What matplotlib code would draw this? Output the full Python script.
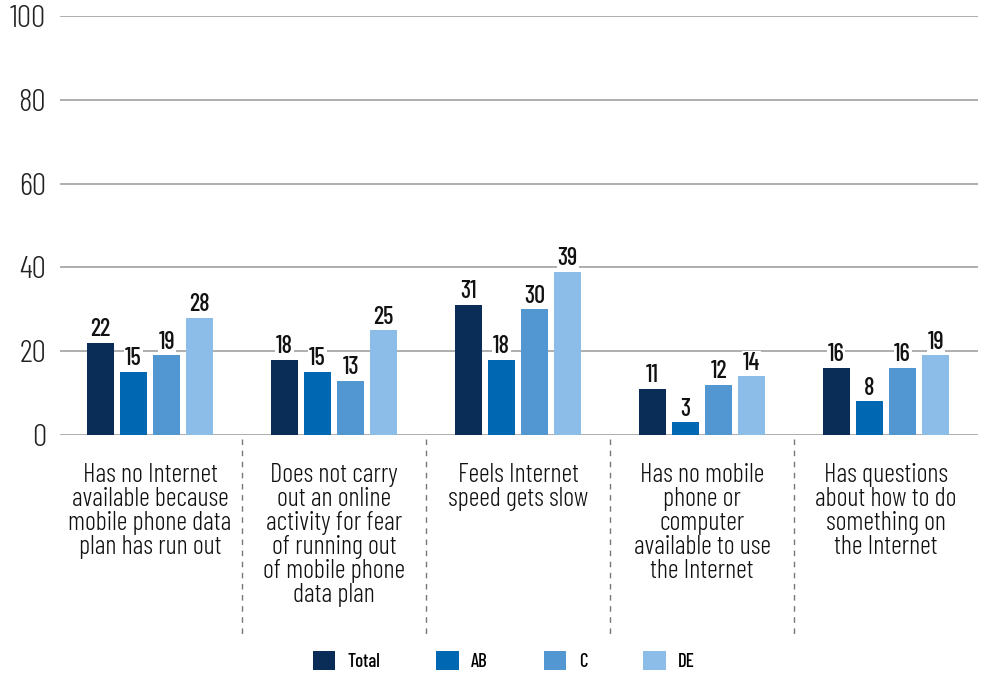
import matplotlib
matplotlib.use("Agg")
import matplotlib.pyplot as plt
import matplotlib.transforms as mtransforms
import numpy as np

FONT = "Barlow Condensed"
plt.rcParams['font.family'] = [FONT, 'DejaVu Sans']

categories = [
    "Has no Internet\navailable because\nmobile phone data\nplan has run out",
    "Does not carry\nout an online\nactivity for fear\nof running out\nof mobile phone\ndata plan",
    "Feels Internet\nspeed gets slow",
    "Has no mobile\nphone or\ncomputer\navailable to use\nthe Internet",
    "Has questions\nabout how to do\nsomething on\nthe Internet",
]
series_names = ["Total", "AB", "C", "DE"]
total = [22, 18, 31, 11, 16]
ab = [15, 15, 18, 3, 8]
c = [19, 13, 30, 12, 16]
de = [28, 25, 39, 14, 19]
yticks = [0, 20, 40, 60, 80, 100]

colors = ["#0a2d57", "#0068b3", "#5296d2", "#8bbde8"]
series = [total, ab, c, de]

fig = plt.figure(figsize=(9.82, 6.74), dpi=100)
ax = fig.add_axes([0.061, 0.3546, 0.935, 0.6217])

x = np.arange(len(categories))
width = 0.147
step = 0.18
for i, (vals, col, nm) in enumerate(zip(series, colors, series_names)):
    pos = x + (i - 1.5) * step
    ax.bar(pos, vals, width=width, color=col, label=nm, zorder=3)
    for p, v in zip(pos, vals):
        ax.text(p, v + 0.4, str(v), ha="center", va="bottom", fontsize=17.5,
                fontweight=500, color="#111111", zorder=4,
                bbox=dict(facecolor="white", edgecolor="none", pad=0.6))

ax.set_ylim(0, 100)
ax.set_xlim(-0.49, 4.5)
ax.set_yticks(yticks)
ax.set_yticklabels([str(t) for t in yticks], fontsize=23, color="#222222",
                   fontweight=300)
for t in yticks:
    ax.axhline(t, color="#999999", linewidth=1.1, zorder=1)
ax.tick_params(axis="y", length=0, pad=10)
ax.set_xticks([])
for s in ax.spines.values():
    s.set_visible(False)

trans = mtransforms.blended_transform_factory(ax.transData, ax.transAxes)
for sep in [0.5, 1.5, 2.5, 3.5]:
    ax.plot([sep, sep], [-0.01, -0.48], transform=trans, clip_on=False,
            color="#777777", linewidth=1.0, linestyle=(0, (4, 4)))

for xi, lab in zip(x, categories):
    ax.text(xi, -0.068, lab, transform=trans, ha="center", va="top",
            fontsize=19, color="#111111", linespacing=1.0, fontweight=300)

fig.legend(loc="center", bbox_to_anchor=(0.513, 0.019), ncol=4,
           frameon=False, handlelength=1.2, handleheight=1.2,
           columnspacing=3.0, handletextpad=0.65,
           prop={"family": FONT, "weight": 500, "size": 13.5})

fig.savefig("out.png", dpi=100, facecolor="white")
